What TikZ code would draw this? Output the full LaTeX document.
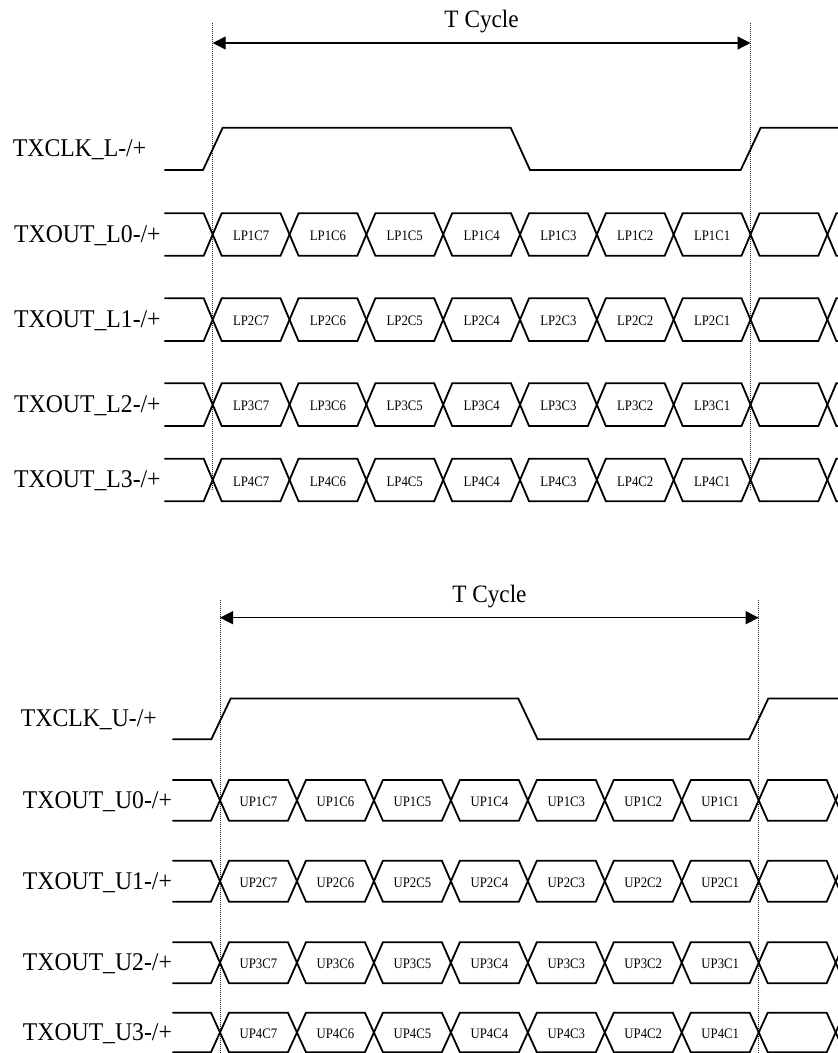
\documentclass[tikz,border=0pt]{standalone}
\usepackage{fontspec}
\setmainfont{Liberation Serif}
\usetikzlibrary{arrows.meta}
\tikzset{
  wave/.style={line width=1.8pt, line join=miter},
  guide/.style={line width=0.7pt, dash pattern=on 1pt off 1pt, black!85},
  span/.style={line width=1.2pt, {Triangle[length=13pt,width=13pt]}-{Triangle[length=13pt,width=13pt]}},
  siglabel/.style={font=\fontsize{25.5}{28}\selectfont, anchor=base west, inner sep=0pt},
  bitlabel/.style={font=\fontsize{14.5}{16}\selectfont, anchor=base, inner sep=0pt},
  cyclelabel/.style={font=\fontsize{25}{28}\selectfont, anchor=base, inner sep=0pt},
}
\newcommand{\narrowsig}[1]{\scalebox{0.93}[1]{#1}}
\newcommand{\narrowbit}[1]{\scalebox{0.88}[1]{#1}}
% #1 xs, #2 x0, #3 period, #4 ytop, #5 ybot, #6 bit prefix, #7 name prefix
\newcommand{\drawbusrow}[7]{%
  \draw[wave] (#1,#4) foreach \k in {0,...,8} {
      -- ({#2+\k*#3-9},{ifthenelse(mod(\k,2)==0,#4,#5)})
      -- ({#2+\k*#3+9},{ifthenelse(mod(\k,2)==0,#5,#4)}) } -- ++(30,0);
  \draw[wave] (#1,#5) foreach \k in {0,...,8} {
      -- ({#2+\k*#3-9},{ifthenelse(mod(\k,2)==0,#5,#4)})
      -- ({#2+\k*#3+9},{ifthenelse(mod(\k,2)==0,#4,#5)}) } -- ++(30,0);
  \foreach \k [evaluate=\k as \c using int(7-\k)] in {0,...,6}
    \node[bitlabel] (#7c\c) at ({#2+(\k+0.5)*#3},{(#4+#5)/2+6.2}) {\narrowbit{#6C\c}};
}
\begin{document}
\begin{tikzpicture}[x=1pt,y=-1pt]
\useasboundingbox (0,0) rectangle (838,1053);
\clip (0,0) rectangle (838,1053);

% ---------------- upper (L) section ----------------
\coordinate (gLt1) at (212.7,23);
\coordinate (gLb1) at (212.7,490);
\coordinate (gLt2) at (750.5,23);
\coordinate (gLb2) at (750.5,490);
\draw[guide] (gLt1) -- (gLb1);
\draw[guide] (gLt2) -- (gLb2);
\coordinate (aL1) at (212.7,43);
\coordinate (aL2) at (750.5,43);
\draw[span] (aL1) -- (aL2);
\node[cyclelabel] (tcycL) at (481.6,27.5) {\narrowsig{T Cycle}};

\node[siglabel] (clkL) at (12.7,156.5) {\narrowsig{TXCLK\_L-/+}};
\draw[wave] (164.3,170) -- (203,170) -- (222.7,127.7) -- (510.7,127.7)
  -- (530,170) -- (740.7,170) -- (760.7,127.7) -- (850,127.7);

\node[siglabel] (l0) at (14,242.5) {\narrowsig{TXOUT\_L0-/+}};
\node[siglabel] (l1) at (14,327.7) {\narrowsig{TXOUT\_L1-/+}};
\node[siglabel] (l2) at (14,412.7) {\narrowsig{TXOUT\_L2-/+}};
\node[siglabel] (l3) at (14,487.9) {\narrowsig{TXOUT\_L3-/+}};
\drawbusrow{164.3}{212.7}{76.83}{213.3}{255.7}{LP1}{L0}
\drawbusrow{164.3}{212.7}{76.83}{298.3}{341}{LP2}{L1}
\drawbusrow{164.3}{212.7}{76.83}{383.3}{426}{LP3}{L2}
\drawbusrow{164.3}{212.7}{76.83}{458.7}{501.2}{LP4}{L3}

% ---------------- lower (U) section ----------------
\coordinate (gUt1) at (220,599.5);
\coordinate (gUb1) at (220,1053);
\coordinate (gUt2) at (758.7,599.5);
\coordinate (gUb2) at (758.7,1053);
\draw[guide] (gUt1) -- (gUb1);
\draw[guide] (gUt2) -- (gUb2);
\coordinate (aU1) at (220,617.7);
\coordinate (aU2) at (758.7,617.7);
\draw[span] (aU1) -- (aU2);
\node[cyclelabel] (tcycU) at (489.4,602.2) {\narrowsig{T Cycle}};

\node[siglabel] (clkU) at (20.7,726.5) {\narrowsig{TXCLK\_U-/+}};
\draw[wave] (172.3,739.3) -- (211.3,739.3) -- (230.7,698.5) -- (518.3,698.5)
  -- (537.7,739.3) -- (749,739.3) -- (768.3,698.5) -- (850,698.5);

\node[siglabel] (u0) at (22.7,808.3) {\narrowsig{TXOUT\_U0-/+}};
\node[siglabel] (u1) at (22.7,889.2) {\narrowsig{TXOUT\_U1-/+}};
\node[siglabel] (u2) at (22.7,970.7) {\narrowsig{TXOUT\_U2-/+}};
\node[siglabel] (u3) at (22.7,1040.5) {\narrowsig{TXOUT\_U3-/+}};
\drawbusrow{172.3}{220}{76.96}{780}{820.7}{UP1}{U0}
\drawbusrow{172.3}{220}{76.96}{860.7}{901.7}{UP2}{U1}
\drawbusrow{172.3}{220}{76.96}{942.2}{983.2}{UP3}{U2}
\drawbusrow{172.3}{220}{76.96}{1012.7}{1052.2}{UP4}{U3}
\end{tikzpicture}
\end{document}
